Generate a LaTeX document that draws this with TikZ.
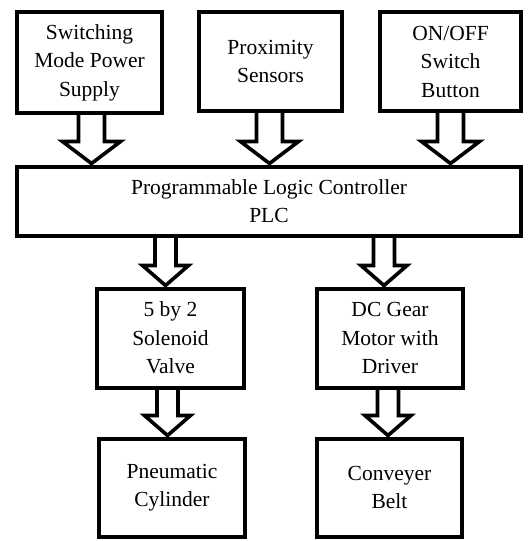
\documentclass[tikz,border=0pt]{standalone}
\usepackage{fontspec}
\setmainfont{Liberation Serif}
\newfontfamily\boxfont{Liberation Serif}
\usetikzlibrary{calc}
\begin{document}
\begin{tikzpicture}[x=1pt,y=-1pt,
  box/.style={draw=black, line width=4pt, align=center, inner sep=0pt,
    font=\boxfont\fontsize{21.5}{28.5}\selectfont},
  hollow/.style args={#1/#2/#3}{line width=3.6pt, miter limit=10,
    to path={let \p1=(\tikztostart), \p2=(\tikztotarget) in
      (\x2-#1,\y1) -- (\x2-#1,\y2+#3+1pt) -- (\x2-#2,\y2+#3+1pt) -- (\x2,\y2+1pt)
      -- (\x2+#2,\y2+#3+1pt) -- (\x2+#1,\y2+#3+1pt) -- (\x2+#1,\y1)}},
  bigarrow/.style={hollow=13pt/29pt/22pt},
  smallarrow/.style={hollow=10.5pt/23pt/20pt}
]
\useasboundingbox (0,0) rectangle (528,541);
\node[box, minimum width=145pt, minimum height=101pt] (smps) at (89.5,62.5) {Switching\\Mode Power\\Supply};
\node[box, minimum width=143pt, minimum height=99pt] (prox) at (270.5,61.5) {Proximity\\Sensors};
\node[box, minimum width=141pt, minimum height=99pt] (onoff) at (450.5,61.5) {ON/OFF\\Switch\\Button};
\node[box, minimum width=504pt, minimum height=69pt] (plc) at (269,201) {Programmable Logic Controller\\PLC};
\node[box, minimum width=147pt, minimum height=99pt] (valve) at (170.5,338) {5 by 2\\Solenoid\\Valve};
\node[box, minimum width=146pt, minimum height=99pt] (motor) at (390,338) {DC Gear\\Motor with\\Driver};
\node[box, minimum width=146pt, minimum height=98pt] (cyl) at (172,487.5) {Pneumatic\\Cylinder};
\node[box, minimum width=145pt, minimum height=98pt] (belt) at (389.5,487.5) {Conveyer\\Belt};

\draw[bigarrow] (smps.south) to ($(smps.south |- plc.north)+(2,0)$);
\draw[bigarrow] (prox.south) to ($(prox.south |- plc.north)+(-1,0)$);
\draw[bigarrow] (onoff.south) to (onoff.south |- plc.north);
\draw[smallarrow] ($(valve.north |- plc.south)+(-5,0)$) to ($(valve.north)+(-5,0)$);
\draw[smallarrow] ($(motor.north |- plc.south)+(-6,0)$) to ($(motor.north)+(-6,0)$);
\draw[smallarrow] ($(valve.south)+(-3,0)$) to ($(valve.south |- cyl.north)+(-3,0)$);
\draw[smallarrow] ($(motor.south)+(-2,0)$) to ($(motor.south |- belt.north)+(-2,0)$);
\end{tikzpicture}
\end{document}
